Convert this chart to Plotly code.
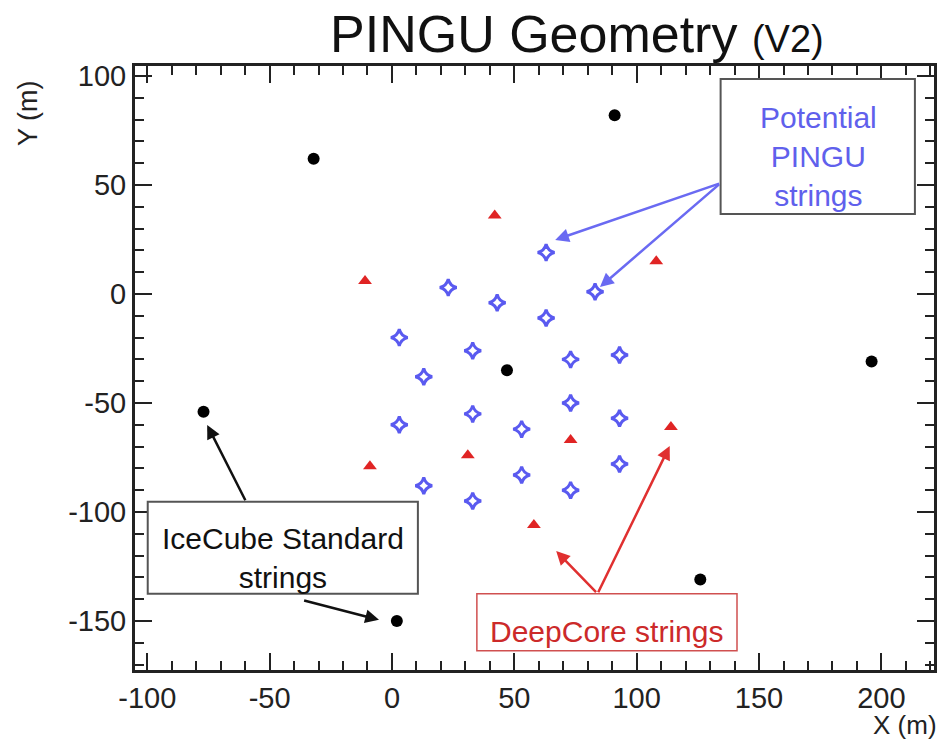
import plotly.graph_objects as go

# IceCube standard strings (x, y in metres)
icecube_x = [-32, 91, 47, -77, 196, 126, 2]
icecube_y = [62, 82, -35, -54, -31, -131, -150]

# DeepCore strings
deepcore_x = [42, 108, -11, -9, 31, 73, 114, 58]
deepcore_y = [36, 15, 6, -79, -74, -67, -61, -106]

# Potential PINGU strings (V2 layout)
pingu_x = [63, 23, 83, 43, 63, 3, 33, 13, 73, 93,
           73, 93, 33, 3, 53, 93, 53, 13, 73, 33]
pingu_y = [19, 3, 1, -4, -11, -20, -26, -38, -30, -28,
           -50, -57, -55, -60, -62, -78, -83, -88, -90, -95]

x_ticks = [-100, -50, 0, 50, 100, 150, 200]
y_ticks = [-150, -100, -50, 0, 50, 100]

FONT = "Liberation Sans, Arial, sans-serif"
BLUE = "#5a5af0"
RED = "#e02424"

fig = go.Figure()
fig.add_trace(go.Scatter(x=pingu_x, y=pingu_y, mode="markers",
                         marker=dict(symbol="star-diamond-open", size=12,
                                     color=BLUE, line=dict(width=3, color=BLUE))))
fig.add_trace(go.Scatter(x=deepcore_x, y=deepcore_y, mode="markers",
                         marker=dict(symbol="triangle-up", size=12, color=RED)))
fig.add_trace(go.Scatter(x=icecube_x, y=icecube_y, mode="markers",
                         marker=dict(symbol="circle", size=12, color="black")))

axis_common = dict(
    showgrid=False, zeroline=False, showline=True, linewidth=3, linecolor="#222",
    mirror="allticks", ticks="inside", ticklen=17, tickwidth=2, tickcolor="#222",
    tickfont=dict(family=FONT, size=29, color="#222"),
    minor=dict(ticks="inside", ticklen=9, tickwidth=2, tickcolor="#222", dtick=10),
)
fig.update_xaxes(range=[-105, 221.5], tickvals=x_ticks,
                 ticktext=[str(v) for v in x_ticks], **axis_common)
fig.update_yaxes(range=[-172.5, 104.6], tickvals=y_ticks,
                 ticktext=[str(v) for v in y_ticks], **axis_common)

annotations = [
    # title
    dict(text="PINGU Geometry <span style='font-size:38px'>(V2)</span>",
         xref="paper", yref="paper", x=0.553, y=1.0, yshift=1,
         xanchor="center", yanchor="bottom", showarrow=False,
         font=dict(family=FONT, size=52, color="#111")),
    # axis titles
    dict(text="X (m)", xref="paper", yref="paper", x=1.0, xshift=5, y=0, yshift=-38,
         xanchor="right", yanchor="top", showarrow=False,
         font=dict(family=FONT, size=26, color="#222")),
    dict(text="Y (m)", xref="paper", yref="paper", x=0, xshift=-124, y=1.0, yshift=-12,
         xanchor="left", yanchor="top", textangle=-90, showarrow=False,
         font=dict(family=FONT, size=27, color="#222")),
    # label texts
    dict(text="Potential<br>PINGU<br>strings", x=174.5, y=67.7, yshift=-10,
         showarrow=False, font=dict(family=FONT, size=30, color="#6060ec")),
    dict(text="IceCube Standard<br>strings", x=-44.6, y=-116.5, yshift=-10,
         showarrow=False, font=dict(family=FONT, size=30, color="#111")),
    dict(text="DeepCore strings", x=87.8, y=-150.7, yshift=-9,
         showarrow=False, font=dict(family=FONT, size=30, color="#cc2a2a")),
]

# boxes around the label texts: (x0, y0, x1, y1, border colour, width)
boxes = [
    (134.3, 36.7, 213.7, 98.6, "#555", 2),
    (-99.8, -137.5, 10.6, -95.3, "#555", 2),
    (34.7, -163.7, 141.0, -137.5, "#d05050", 1.5),
]
shapes = [dict(type="rect", xref="x", yref="y", x0=a, y0=b, x1=c, y1=d,
               line=dict(color=col, width=w), fillcolor="white", layer="above")
          for a, b, c, d, col, w in boxes]

# pointer arrows: (tip x, tip y, tail x, tail y, colour)
arrows = [
    (66.7, 24.8, 134.3, 50.9, "#6a6af2"),
    (85.0, 3.2, 134.3, 50.9, "#6a6af2"),
    (-75.5, -60.1, -59.6, -95.3, "#111"),
    (-5.3, -149.5, -36.5, -140.4, "#111"),
    (67.1, -117.9, 84.0, -137.5, "#e03030"),
    (113.5, -69.7, 84.0, -137.5, "#e03030"),
]
for tx, ty, sx, sy, c in arrows:
    annotations.append(dict(x=tx, y=ty, ax=sx, ay=sy, xref="x", yref="y",
                            axref="x", ayref="y", text="", showarrow=True,
                            arrowhead=2, arrowsize=1.1, arrowwidth=2.5,
                            arrowcolor=c))

fig.update_layout(
    width=943, height=742,
    margin=dict(l=135, r=6, t=66, b=72),
    paper_bgcolor="white", plot_bgcolor="white",
    showlegend=False,
    annotations=annotations,
    shapes=shapes,
)

fig.write_html("out.html")
